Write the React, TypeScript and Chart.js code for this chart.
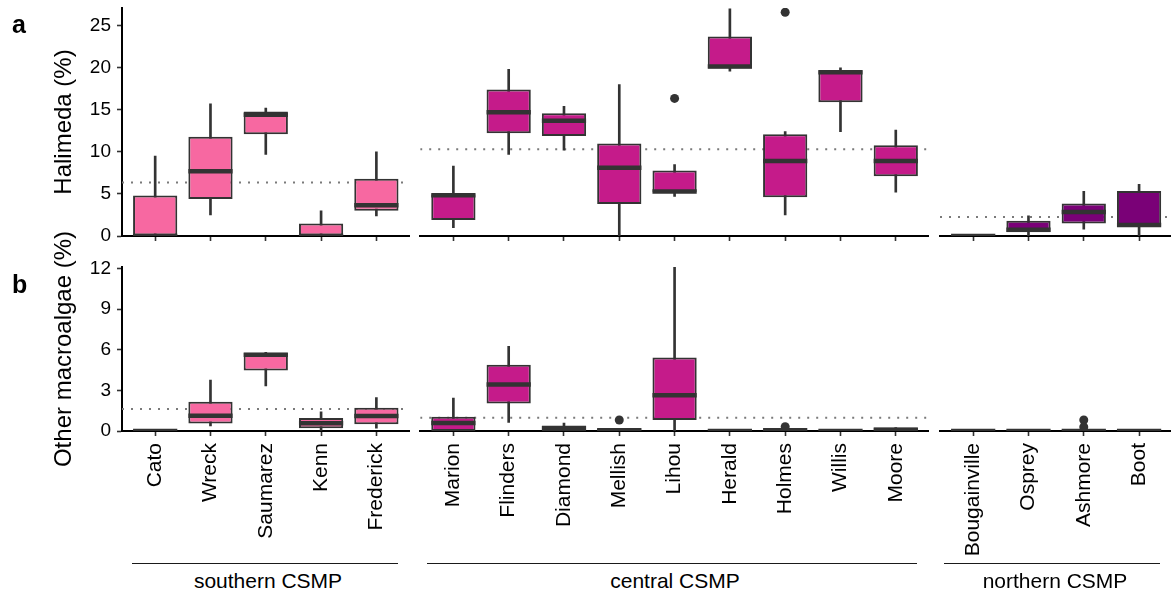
import React, { useEffect, useRef } from 'react';
import { Chart, registerables } from 'chart.js';

Chart.register(...registerables);

// ---------- data ----------
const southernSites = ['Cato', 'Wreck', 'Saumarez', 'Kenn', 'Frederick'];
const centralSites = ['Marion', 'Flinders', 'Diamond', 'Mellish', 'Lihou', 'Herald', 'Holmes', 'Willis', 'Moore'];
const northernSites = ['Bougainville', 'Osprey', 'Ashmore', 'Boot'];

// each row: [lower whisker, Q1, median, Q3, upper whisker]
const halimedaSouthern = [
  [0, 0, 0, 4.8, 9.5],
  [2.5, 4.4, 7.7, 11.8, 15.7],
  [9.7, 12.1, 14.4, 14.8, 15.2],
  [0, 0, 0, 1.5, 3.0],
  [2.4, 3.0, 3.65, 6.8, 10.0],
];
const halimedaCentral = [
  [1.0, 1.9, 4.85, 4.95, 8.3],
  [9.7, 12.2, 14.7, 17.4, 19.8],
  [10.2, 11.9, 13.7, 14.6, 15.4],
  [0, 3.8, 8.1, 11.0, 18.0],
  [4.7, 5.2, 5.3, 7.8, 8.5],
  [19.6, 19.9, 20.15, 23.7, 27.0],
  [2.5, 4.6, 8.9, 12.1, 12.4],
  [12.4, 15.9, 19.45, 19.7, 20.0],
  [5.2, 7.1, 8.9, 10.8, 12.6],
];
const halimedaNorthern = [
  [0, 0, 0, 0, 0],
  [0, 0.45, 0.75, 1.8, 2.4],
  [0.8, 1.5, 2.85, 3.85, 5.3],
  [0, 1.2, 1.3, 5.35, 6.15],
];
const halimedaSouthernOutliers: [string, number][] = [];
const halimedaCentralOutliers: [string, number][] = [['Lihou', 16.35], ['Holmes', 26.6]];
const halimedaNorthernOutliers: [string, number][] = [];
const halimedaMeans: (number | null)[] = [6.35, 10.3, 2.25];
const halimedaTicks = [0, 5, 10, 15, 20, 25];
const halimedaMax = 27.1;

const otherSouthern = [
  [0, 0, 0, 0.05, 0.05],
  [0.37, 0.55, 1.13, 2.16, 3.76],
  [3.32, 4.47, 5.63, 5.77, 5.8],
  [0.05, 0.2, 0.57, 0.96, 1.42],
  [0.2, 0.49, 1.1, 1.72, 2.46],
];
const otherCentral = [
  [0, 0, 0.59, 1.06, 2.43],
  [0.64, 2.02, 3.44, 4.89, 6.24],
  [0, 0, 0.2, 0.4, 0.59],
  [0, 0, 0.05, 0.2, 0.2],
  [0, 0.81, 2.63, 5.43, 12.1],
  [0, 0, 0, 0.05, 0.05],
  [0, 0, 0.05, 0.1, 0.1],
  [0, 0, 0, 0.05, 0.05],
  [0, 0, 0.1, 0.25, 0.25],
];
const otherNorthern = [
  [0, 0, 0, 0.05, 0.05],
  [0, 0, 0, 0.05, 0.05],
  [0, 0, 0, 0.05, 0.05],
  [0, 0, 0, 0.05, 0.05],
];
const otherSouthernOutliers: [string, number][] = [];
const otherCentralOutliers: [string, number][] = [['Mellish', 0.81], ['Holmes', 0.32]];
const otherNorthernOutliers: [string, number][] = [['Ashmore', 0.81], ['Ashmore', 0.3]];
const otherMeans: (number | null)[] = [1.62, 0.98, null];
const otherTicks = [0, 3, 6, 9, 12];
const otherMax = 12.1;

const groupNames = ['southern CSMP', 'central CSMP', 'northern CSMP'];
const yTitles = ['Halimeda (%)', 'Other macroalgae (%)'];
const panelLetters = ['a', 'b'];

// ---------- style / layout ----------
const FONT = "'Liberation Sans', Arial, Helvetica, sans-serif";
const LINE = '#333333';
const regionColors = ['#F768A1', '#C51B8A', '#7A0177'];
const STEP = 55.3;
const facetLeft = [122, 420.2, 940];
const rowTop = [8, 267];
const rowBottom = [236, 431];
const rowAxisH = [14, 125];
const rowCanvasTop = [0, 252];

type Spec = {
  sites: string[];
  stats: number[][];
  outliers: [string, number][];
  mean: number | null;
  color: string;
  yTicks: number[];
  yMax: number;
  showY: boolean;
  showLabels: boolean;
  canvasLeft: number;
  canvasTop: number;
  width: number;
  height: number;
  padLeft: number;
  padRight: number;
  padTop: number;
  yAxisW: number;
  xAxisH: number;
};

function buildConfig(f: Spec): any {
  const n = f.sites.length;
  const datasets: any[] = [];
  if (f.mean !== null) {
    datasets.push({
      type: 'line',
      data: [{ x: -0.6, y: f.mean }, { x: n - 0.4, y: f.mean }],
      borderColor: '#7a7a7a',
      borderWidth: 2,
      borderDash: [2, 7],
      pointRadius: 0,
      fill: false,
      tension: 0,
      order: 5,
      clip: 0,
    });
  }
  datasets.push({
    type: 'bar',
    data: f.stats.map((s, i) => ({ x: i, y: [s[0], s[4]] })),
    backgroundColor: LINE,
    borderWidth: 0,
    grouped: false,
    barPercentage: 1,
    categoryPercentage: 1,
    maxBarThickness: 2,
    order: 4,
    clip: 0,
  });
  datasets.push({
    type: 'bar',
    data: f.stats.map((s, i) => ({ x: i, y: [s[1], s[3]] })),
    backgroundColor: f.color,
    borderColor: LINE,
    borderWidth: 2,
    borderSkipped: false,
    grouped: false,
    barPercentage: 0.8,
    categoryPercentage: 1,
    order: 3,
    clip: 0,
  });
  datasets.push({
    type: 'scatter',
    data: f.stats.map((s, i) => ({ x: i, y: s[2] })),
    pointStyle: 'line',
    pointRadius: 0.4 * STEP,
    pointBorderWidth: 4.5,
    pointBorderColor: LINE,
    borderColor: LINE,
    order: 2,
    clip: 0,
  });
  if (f.outliers.length) {
    datasets.push({
      type: 'scatter',
      data: f.outliers.map(([name, v]) => ({ x: f.sites.indexOf(name), y: v })),
      pointRadius: 4.5,
      pointBackgroundColor: LINE,
      pointBorderWidth: 0,
      order: 1,
      clip: 0,
    });
  }

  return {
    type: 'bar',
    data: { datasets },
    options: {
      animation: false,
      responsive: false,
      maintainAspectRatio: false,
      devicePixelRatio: 1,
      events: [],
      layout: { autoPadding: false, padding: { left: f.padLeft, right: f.padRight, top: f.padTop, bottom: 0 } },
      plugins: { legend: { display: false }, tooltip: { enabled: false }, title: { display: false } },
      scales: {
        x: {
          type: 'linear',
          min: -0.6,
          max: n - 0.4,
          offset: false,
          afterBuildTicks: (s: any) => {
            s.ticks = f.sites.map((_, i) => ({ value: i }));
          },
          afterFit: (s: any) => {
            s.height = f.xAxisH;
            s.paddingLeft = 0;
            s.paddingRight = 0;
          },
          grid: {
            offset: false,
            drawOnChartArea: false,
            drawTicks: true,
            tickLength: 5,
            tickWidth: 1.6,
            tickColor: LINE,
            color: LINE,
          },
          border: { display: true, color: '#000', width: 2 },
          ticks: {
            autoSkip: false,
            minRotation: 90,
            maxRotation: 90,
            padding: 7,
            color: '#000',
            font: { family: FONT, size: 21 },
            callback: (v: any) => (f.showLabels ? f.sites[Math.round(v)] : ''),
          },
        },
        y: {
          type: 'linear',
          min: 0,
          max: f.yMax,
          display: f.showY,
          afterBuildTicks: (s: any) => {
            s.ticks = f.yTicks.map((v) => ({ value: v }));
          },
          afterFit: (s: any) => {
            if (f.showY) s.width = f.yAxisW;
            s.paddingTop = 0;
            s.paddingBottom = 0;
          },
          grid: {
            offset: false,
            drawOnChartArea: false,
            drawTicks: true,
            tickLength: 5,
            tickWidth: 1.6,
            tickColor: LINE,
            color: LINE,
          },
          border: { display: true, color: '#000', width: 2 },
          ticks: { padding: 6, color: '#000', font: { family: FONT, size: 19 } },
        },
      },
    },
  };
}

function Facet({ spec }: { spec: Spec }) {
  const ref = useRef<HTMLCanvasElement>(null);
  useEffect(() => {
    if (!ref.current) return;
    const chart = new Chart(ref.current, buildConfig(spec));
    return () => chart.destroy();
  }, []);
  return (
    <canvas
      ref={ref}
      width={spec.width}
      height={spec.height}
      style={{ position: 'absolute', left: spec.canvasLeft, top: spec.canvasTop, width: spec.width, height: spec.height }}
    />
  );
}

function makeSpecs(): Spec[] {
  const sitesList = [southernSites, centralSites, northernSites];
  const rows = [
    {
      stats: [halimedaSouthern, halimedaCentral, halimedaNorthern],
      outs: [halimedaSouthernOutliers, halimedaCentralOutliers, halimedaNorthernOutliers],
      means: halimedaMeans,
      ticks: halimedaTicks,
      max: halimedaMax,
    },
    {
      stats: [otherSouthern, otherCentral, otherNorthern],
      outs: [otherSouthernOutliers, otherCentralOutliers, otherNorthernOutliers],
      means: otherMeans,
      ticks: otherTicks,
      max: otherMax,
    },
  ];
  const specs: Spec[] = [];
  rows.forEach((row, r) => {
    sitesList.forEach((sites, fi) => {
      const L = facetLeft[fi];
      const R = L + (sites.length + 0.2) * STEP;
      const first = fi === 0;
      const canvasLeft = first ? 0 : Math.floor(L) - 6;
      const canvasRight = Math.ceil(R) + 6;
      const canvasTop = rowCanvasTop[r];
      specs.push({
        sites,
        stats: row.stats[fi],
        outliers: row.outs[fi],
        mean: row.means[fi],
        color: regionColors[fi],
        yTicks: row.ticks,
        yMax: row.max,
        showY: first,
        showLabels: r === 1,
        canvasLeft,
        canvasTop,
        width: canvasRight - canvasLeft,
        height: rowBottom[r] + rowAxisH[r] - canvasTop,
        padLeft: first ? 0 : L - canvasLeft,
        padRight: canvasRight - R,
        padTop: rowTop[r] - canvasTop,
        yAxisW: first ? L : 0,
        xAxisH: rowAxisH[r],
      });
    });
  });
  return specs;
}

const specs = makeSpecs();

const groupLines = [
  [132, 398],
  [427, 917],
  [944, 1160],
];

export default function App() {
  return (
    <div
      style={{
        position: 'fixed',
        left: 0,
        top: 0,
        width: 1171,
        height: 596,
        overflow: 'hidden',
        background: '#fff',
        fontFamily: FONT,
        color: '#000',
      }}
    >
      {specs.map((s, i) => (
        <Facet key={i} spec={s} />
      ))}
      {panelLetters.map((l, i) => (
        <div
          key={l}
          style={{
            position: 'absolute',
            left: 12,
            top: [12.2, 272.2][i],
            fontSize: 25,
            lineHeight: '25px',
            fontWeight: 'bold',
          }}
        >
          {l}
        </div>
      ))}
      {yTitles.map((t, i) => (
        <div
          key={t}
          style={{
            position: 'absolute',
            left: 63,
            top: (rowTop[i] + rowBottom[i]) / 2,
            transform: 'translate(-50%, -50%) rotate(-90deg)',
            fontSize: 24,
            lineHeight: '24px',
            whiteSpace: 'nowrap',
          }}
        >
          {t}
        </div>
      ))}
      {groupNames.map((g, i) => {
        const [a, b] = groupLines[i];
        return (
          <React.Fragment key={g}>
            <div
              style={{
                position: 'absolute',
                left: a,
                top: 562.5,
                width: b - a,
                height: 0,
                borderTop: '1.6px solid #1a1a1a',
              }}
            />
            <div
              style={{
                position: 'absolute',
                left: (a + b) / 2 + 3,
                top: 569.5,
                transform: 'translateX(-50%)',
                fontSize: 21,
                lineHeight: '21px',
                whiteSpace: 'nowrap',
              }}
            >
              {g}
            </div>
          </React.Fragment>
        );
      })}
    </div>
  );
}
